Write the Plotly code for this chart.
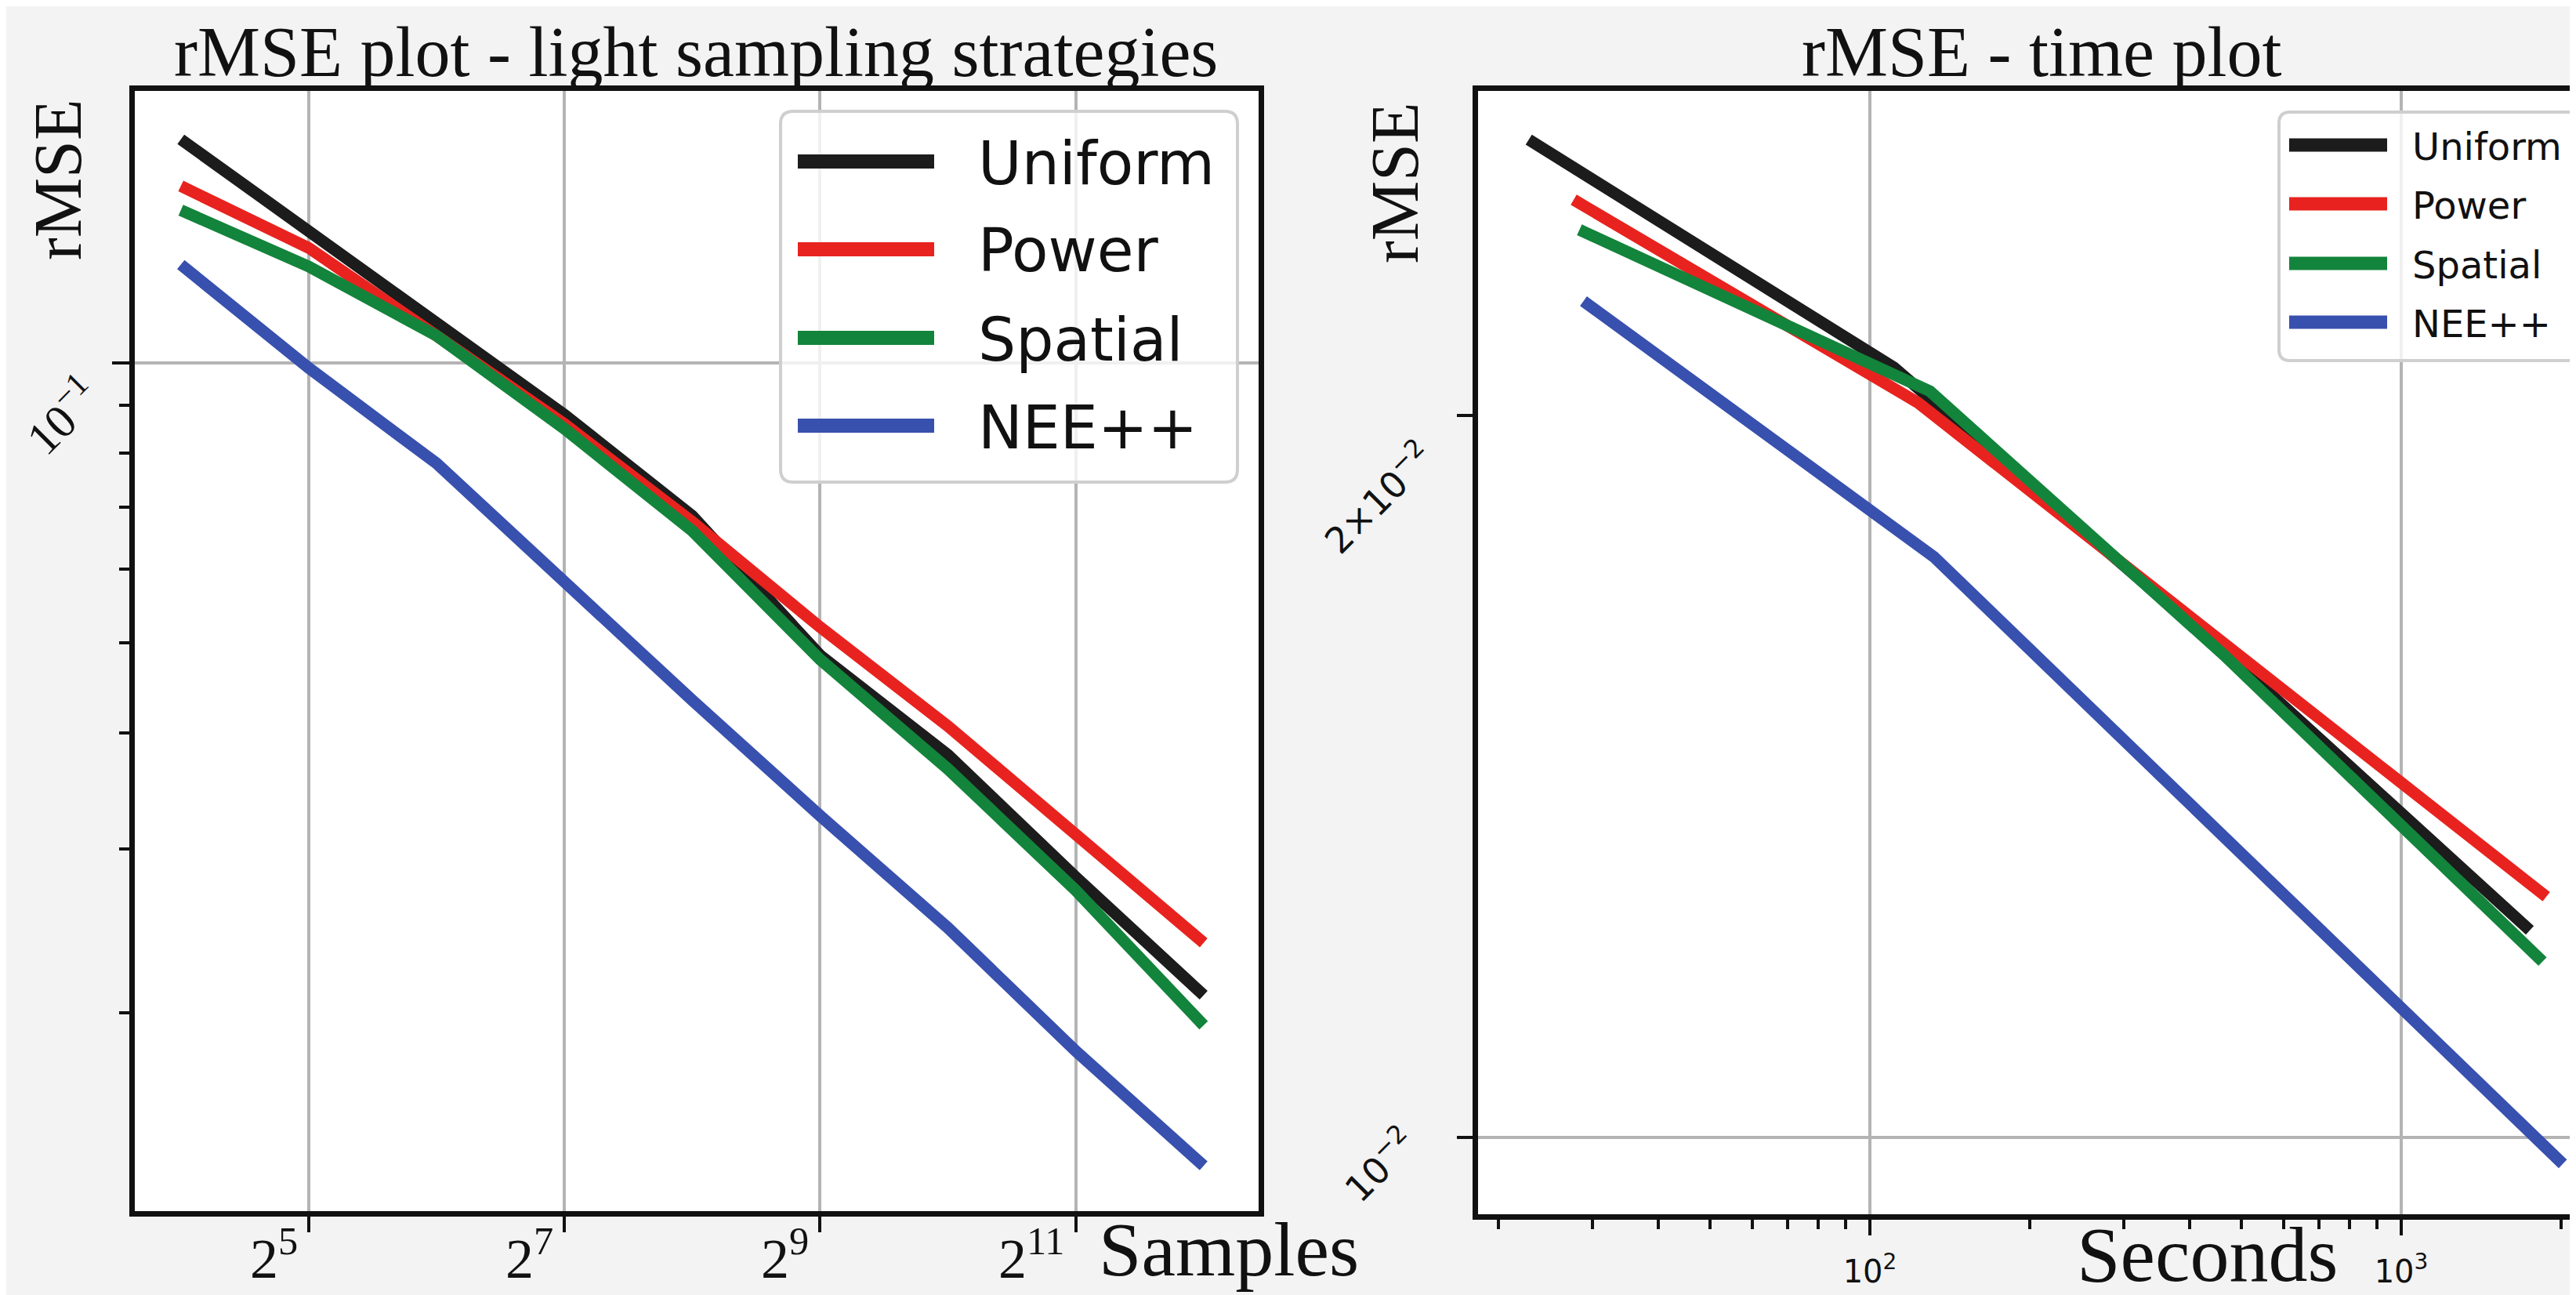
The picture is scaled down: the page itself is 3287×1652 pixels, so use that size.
import math
import plotly.graph_objects as go

W, H = 3287, 1652

# ---------------- data ----------------
series_names = ["Uniform", "Power", "Spatial", "NEE++"]
series_colors = ["#1c1c1c", "#e8231f", "#13843b", "#3850ae"]

samples = [16, 32, 64, 128, 256, 512, 1024, 2048, 4096]
rmse_uniform = [0.174, 0.139, 0.111, 0.088, 0.0685, 0.0485, 0.0379, 0.0280, 0.0209]
rmse_power = [0.155, 0.133, 0.107, 0.086, 0.0675, 0.052, 0.0407, 0.0312, 0.0238]
rmse_spatial = [0.146, 0.127, 0.107, 0.085, 0.066, 0.048, 0.0366, 0.0271, 0.0194]
rmse_nee = [0.1276, 0.0988, 0.078, 0.058, 0.0434, 0.0326, 0.0247, 0.0182, 0.0137]

time_uniform = [22.8, 111, 470, 1746]
trmse_uniform = [0.02606, 0.02094, 0.0159, 0.0122]
time_power = [27.7, 123, 1875]
trmse_power = [0.0246, 0.02025, 0.0126]
time_spatial = [28.4, 129.7, 464, 1845]
trmse_spatial = [0.0239, 0.02047, 0.01589, 0.01184]
time_nee = [28.9, 132, 2014]
trmse_nee = [0.02232, 0.01746, 0.00975]

left_xtick_vals = [32, 128, 512, 2048]
left_xtick_text = ["2<sup>5</sup>", "2<sup>7</sup>", "2<sup>9</sup>", "2<sup>11</sup>"]
left_ytick_vals = [0.1]
left_ytick_text = ["10<sup>−1</sup>"]
left_yminor_vals = [0.02, 0.03, 0.04, 0.05, 0.06, 0.07, 0.08, 0.09]

right_xtick_vals = [100, 1000]
right_xtick_text = ["10<sup>2</sup>", "10<sup>3</sup>"]
right_xminor_vals = [20, 30, 40, 50, 60, 70, 80, 90, 200, 300, 400, 500, 600, 700, 800, 900, 2000]
right_ytick_vals = [0.01, 0.02]
right_ytick_text = ["10<sup>−2</sup>", "2×10<sup>−2</sup>"]
right_ygrid_vals = [0.01]

left_title = "rMSE plot - light sampling strategies"
right_title = "rMSE - time plot"
y_title = "rMSE"
left_x_title = "Samples"
right_x_title = "Seconds"

SERIF = "Liberation Serif, Times New Roman, serif"
SANS = "DejaVu Sans, sans-serif"
GRID = "#b4b4b4"
INK = "#111111"


def px(x):
    return x / W


def py(y):
    return 1 - y / H


fig = go.Figure()

left_series = [rmse_uniform, rmse_power, rmse_spatial, rmse_nee]
for name, color, vals in zip(series_names, series_colors, left_series):
    fig.add_trace(go.Scatter(x=samples, y=vals, mode="lines", name=name,
                             line=dict(color=color, width=15),
                             xaxis="x", yaxis="y", showlegend=False))

right_times = [time_uniform, time_power, time_spatial, time_nee]
right_vals = [trmse_uniform, trmse_power, trmse_spatial, trmse_nee]
for name, color, t, vals in zip(series_names, series_colors, right_times, right_vals):
    fig.add_trace(go.Scatter(x=t, y=vals, mode="lines", name=name,
                             line=dict(color=color, width=15),
                             xaxis="x2", yaxis="y2", showlegend=False))

axis_common = dict(showline=True, linecolor=INK, linewidth=7,
                   ticks="outside", tickcolor=INK, tickwidth=4,
                   zeroline=False, type="log")

fig.update_layout(
    width=W, height=H,
    margin=dict(l=0, r=0, t=0, b=0),
    paper_bgcolor="#f3f3f3",
    plot_bgcolor="#ffffff",
    showlegend=False,
    xaxis=dict(axis_common, domain=[px(164), px(1598)], anchor="y",
               range=[3.64 * math.log10(2), 12.43 * math.log10(2)],
               mirror=True, ticklen=20,
               tickmode="array", tickvals=left_xtick_vals, showticklabels=False,
               showgrid=True, gridcolor=GRID, gridwidth=4),
    yaxis=dict(axis_common, domain=[py(1537), py(108)], anchor="x",
               range=[-1.912, -0.7074], mirror=True, ticklen=22,
               tickmode="array", tickvals=left_ytick_vals, showticklabels=False,
               showgrid=True, gridcolor=GRID, gridwidth=4,
               minor=dict(tickmode="array", tickvals=left_yminor_vals, ticks="outside",
                          ticklen=13, tickwidth=4, tickcolor=INK, showgrid=False)),
    xaxis2=dict(axis_common, domain=[px(1878), 1.0], anchor="y2",
                range=[1.2625, 3.3407], mirror=True, ticklen=20,
                tickmode="array", tickvals=right_xtick_vals, ticktext=right_xtick_text,
                tickfont=dict(family=SANS, size=40, color=INK),
                ticklabelstandoff=12,
                showgrid=True, gridcolor=GRID, gridwidth=4,
                minor=dict(tickmode="array", tickvals=right_xminor_vals, ticks="outside",
                           ticklen=12, tickwidth=4, tickcolor=INK, showgrid=False)),
    yaxis2=dict(axis_common, domain=[py(1541), py(108)], anchor="x2",
                range=[-2.032, -1.5637], mirror=False, ticklen=20,
                tickmode="array", tickvals=right_ytick_vals, showticklabels=False,
                showgrid=False,
                minor=dict(tickmode="array", tickvals=right_ygrid_vals, ticks="",
                           showgrid=True, gridcolor=GRID, gridwidth=4)),
)

annotations = [
    dict(text=left_title, x=px(880), y=py(58), font=dict(family=SERIF, size=90, color=INK)),
    dict(text=right_title, x=px(2597), y=py(58), font=dict(family=SERIF, size=90, color=INK)),
    dict(text=y_title, x=px(66), y=py(222), textangle=-90, font=dict(family=SERIF, size=86, color=INK)),
    dict(text=y_title, x=px(1772), y=py(226), textangle=-90, font=dict(family=SERIF, size=86, color=INK)),
    dict(text=left_x_title, x=px(1560), y=py(1586), font=dict(family=SERIF, size=98, color=INK)),
    dict(text=right_x_title, x=px(2808), y=py(1592), font=dict(family=SERIF, size=100, color=INK)),
]
for a in annotations:
    a.update(xref="paper", yref="paper", showarrow=False, xanchor="center", yanchor="middle")

# left x tick labels (placed at their tick values, right-aligned like the original)
for v, t in zip(left_xtick_vals, left_xtick_text):
    annotations.append(dict(text=t, xref="x", x=math.log10(v), xanchor="right", xshift=-12,
                            yref="paper", y=py(1592), yanchor="middle", showarrow=False,
                            font=dict(family=SERIF, size=72, color=INK)))
# left y tick label (rotated)
for v, t in zip(left_ytick_vals, left_ytick_text):
    annotations.append(dict(text=t, yref="y", y=math.log10(v), yshift=-66, yanchor="middle",
                            xref="paper", x=px(70), xanchor="center", textangle=-45,
                            showarrow=False, font=dict(family=SERIF, size=60, color=INK)))
# right y tick labels (rotated)
right_ylabel_offsets = [-34, -104]
right_ylabel_x = [1752, 1750]
for v, t, dy, xx in zip(right_ytick_vals, right_ytick_text, right_ylabel_offsets, right_ylabel_x):
    annotations.append(dict(text=t, yref="y2", y=math.log10(v), yshift=dy, yanchor="middle",
                            xref="paper", x=px(xx), xanchor="center", textangle=-45,
                            showarrow=False, font=dict(family=SANS, size=46, color=INK)))


def rounded_rect(x0, y0, x1, y1, r):
    pts = [
        f"M{px(x0 + r)},{py(y0)}", f"L{px(x1 - r)},{py(y0)}", f"Q{px(x1)},{py(y0)} {px(x1)},{py(y0 + r)}",
        f"L{px(x1)},{py(y1 - r)}", f"Q{px(x1)},{py(y1)} {px(x1 - r)},{py(y1)}",
        f"L{px(x0 + r)},{py(y1)}", f"Q{px(x0)},{py(y1)} {px(x0)},{py(y1 - r)}",
        f"L{px(x0)},{py(y0 + r)}", f"Q{px(x0)},{py(y0)} {px(x0 + r)},{py(y0)}", "Z",
    ]
    return " ".join(pts)


shapes = []
# left legend
shapes.append(dict(type="path", xref="paper", yref="paper", layer="above",
                   path=rounded_rect(988, 134, 1571, 607, 16),
                   fillcolor="rgba(255,255,255,0.8)", line=dict(color="#cfcfcf", width=4)))
left_rows = [198, 310, 423, 535]
for name, color, yy in zip(series_names, series_colors, left_rows):
    shapes.append(dict(type="line", xref="paper", yref="paper", layer="above",
                       x0=px(1010), x1=px(1184), y0=py(yy), y1=py(yy),
                       line=dict(color=color, width=18)))
    annotations.append(dict(text=name, x=px(1238), y=py(yy + 2), xref="paper", yref="paper",
                            showarrow=False, xanchor="left", yanchor="middle",
                            font=dict(family=SANS, size=76, color=INK)))

# right legend
shapes.append(dict(type="path", xref="paper", yref="paper", layer="above",
                   path=rounded_rect(2900, 135, 3320, 452, 14),
                   fillcolor="rgba(255,255,255,0.8)", line=dict(color="#cfcfcf", width=4)))
right_rows = [177, 252, 328, 403]
for name, color, yy in zip(series_names, series_colors, right_rows):
    shapes.append(dict(type="line", xref="paper", yref="paper", layer="above",
                       x0=px(2913), x1=px(3038), y0=py(yy), y1=py(yy),
                       line=dict(color=color, width=17)))
    annotations.append(dict(text=name, x=px(3068), y=py(yy + 2), xref="paper", yref="paper",
                            showarrow=False, xanchor="left", yanchor="middle",
                            font=dict(family=SANS, size=48, color=INK)))

fig.update_layout(annotations=annotations, shapes=shapes)

fig.write_html("out.html")
